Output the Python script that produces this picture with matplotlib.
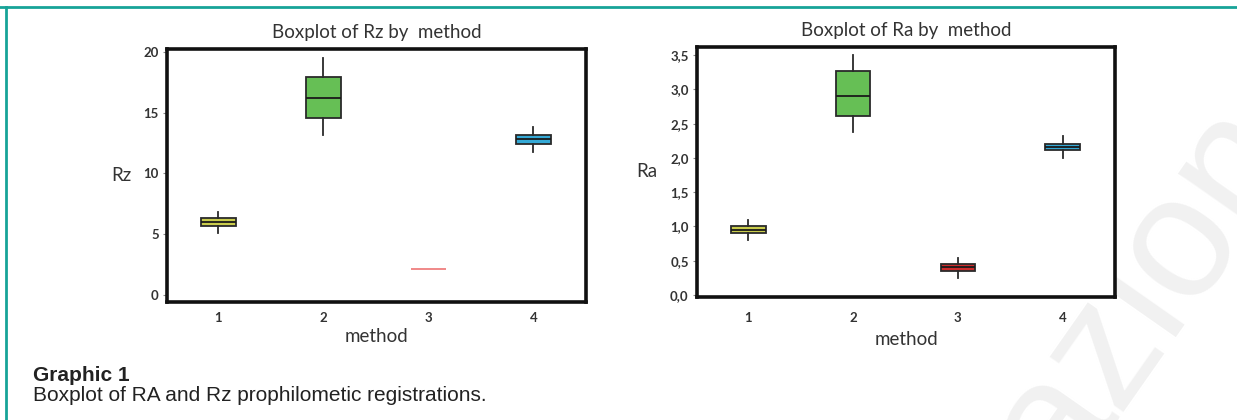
import matplotlib
matplotlib.use("Agg")
import matplotlib.pyplot as plt
from matplotlib.lines import Line2D

# Data (box stats per method)
methods = [1, 2, 3, 4]

rz_whislo = [5.1, 13.2, 2.1, 11.8]
rz_q1 = [5.7, 14.6, 2.1, 12.4]
rz_med = [6.0, 16.2, 2.1, 12.8]
rz_q3 = [6.3, 17.9, 2.1, 13.2]
rz_whishi = [6.8, 19.5, 2.1, 13.8]

ra_whislo = [0.80, 2.38, 0.25, 2.00]
ra_q1 = [0.90, 2.61, 0.35, 2.12]
ra_med = [0.95, 2.90, 0.40, 2.16]
ra_q3 = [1.00, 3.27, 0.45, 2.20]
ra_whishi = [1.10, 3.51, 0.54, 2.32]

rz_ticks = [0, 5, 10, 15, 20]
rz_ticklabels = ["0", "5", "10", "15", "20"]
ra_ticks = [0.0, 0.5, 1.0, 1.5, 2.0, 2.5, 3.0, 3.5]
ra_ticklabels = ["0,0", "0,5", "1,0", "1,5", "2,0", "2,5", "3,0", "3,5"]

box_colors = ["#c9cc4c", "#66bf55", "#cc2b2b", "#34a9d6"]

caption_title = "Graphic 1"
caption_text = "Boxplot of RA and Rz prophilometic registrations."

chart_font = "Lato"
text_color = "#333333"


def make_stats(lo, q1, med, q3, hi):
    stats = []
    for i in range(len(med)):
        stats.append({"whislo": lo[i], "q1": q1[i], "med": med[i],
                      "q3": q3[i], "whishi": hi[i], "fliers": []})
    return stats


def draw_panel(ax, stats, title, ylabel, ticks, ticklabels, ylim,
               xpad, xlabelpad, ylabelpad, flat_red=None):
    art = ax.bxp(stats, positions=methods, widths=0.33, patch_artist=True,
                 showcaps=False, showfliers=False,
                 boxprops=dict(edgecolor="#2a2a2a", linewidth=1.3),
                 whiskerprops=dict(color="#2a2a2a", linewidth=1.3),
                 medianprops=dict(color="#1a1a1a", linewidth=1.3))
    for i, patch in enumerate(art["boxes"]):
        patch.set_facecolor(box_colors[i])
    if flat_red is not None:
        # constant group: drawn as a thin light red line only
        art["boxes"][flat_red].set_edgecolor("#f08a8a")
        art["boxes"][flat_red].set_facecolor("none")
        art["medians"][flat_red].set_color("#f08a8a")
        for w in art["whiskers"][2 * flat_red:2 * flat_red + 2]:
            w.set_visible(False)

    ax.set_xlim(0.51, 4.5)
    ax.set_ylim(*ylim)
    ax.set_xticks(methods)
    ax.set_xticklabels([str(m) for m in methods])
    ax.set_yticks(ticks)
    ax.set_yticklabels(ticklabels)
    for lab in ax.get_xticklabels() + ax.get_yticklabels():
        lab.set_fontfamily(chart_font)
        lab.set_fontweight("bold")
        lab.set_fontsize(9.5)
        lab.set_color(text_color)
    ax.tick_params(axis="x", length=0, pad=xpad)
    ax.tick_params(axis="y", length=3, width=0.8, color="#888888", pad=3)
    for sp in ax.spines.values():
        sp.set_linewidth(2.6)
        sp.set_color("#111111")
    ax.set_title(title, fontfamily=chart_font, fontsize=13.5, color=text_color, pad=8)
    ax.set_xlabel("method", fontfamily=chart_font, fontsize=13.5, color=text_color,
                  labelpad=xlabelpad)
    ax.set_ylabel(ylabel, fontfamily=chart_font, fontsize=13.5, color=text_color,
                  rotation=0, labelpad=ylabelpad, va="center")


fig = plt.figure(figsize=(12.37, 4.2), dpi=100)

# faint watermark, cut by the right edge as in the source
fig.text(0.925, 0.30, "azion", fontsize=125, color="#f1f1f1", rotation=55,
         fontfamily="Liberation Sans", ha="center", va="center", zorder=-5)

ax1 = fig.add_axes([0.135, 0.281, 0.3387, 0.6024])
draw_panel(ax1, make_stats(rz_whislo, rz_q1, rz_med, rz_q3, rz_whishi),
           "Boxplot of Rz by  method", "Rz", rz_ticks, rz_ticklabels,
           (-0.6, 20.25), xpad=7, xlabelpad=3, ylabelpad=16, flat_red=2)

ax2 = fig.add_axes([0.5635, 0.293, 0.3379, 0.595])
draw_panel(ax2, make_stats(ra_whislo, ra_q1, ra_med, ra_q3, ra_whishi),
           "Boxplot of Ra by  method", "Ra", ra_ticks, ra_ticklabels,
           (-0.03, 3.62), xpad=11, xlabelpad=5, ylabelpad=17)

# teal frame lines (top and left)
fig.add_artist(Line2D([0, 1], [0.984, 0.984], transform=fig.transFigure,
                      color="#17a398", linewidth=2))
fig.add_artist(Line2D([0.0045, 0.0045], [0, 0.984], transform=fig.transFigure,
                      color="#17a398", linewidth=2))

fig.text(0.027, 0.093, caption_title, fontfamily="Liberation Sans",
         fontweight="bold", fontsize=15, color="#222222", va="baseline")
fig.text(0.027, 0.045, caption_text, fontfamily="Liberation Sans",
         fontsize=15, color="#222222", va="baseline")

fig.savefig("out.png", dpi=100)
